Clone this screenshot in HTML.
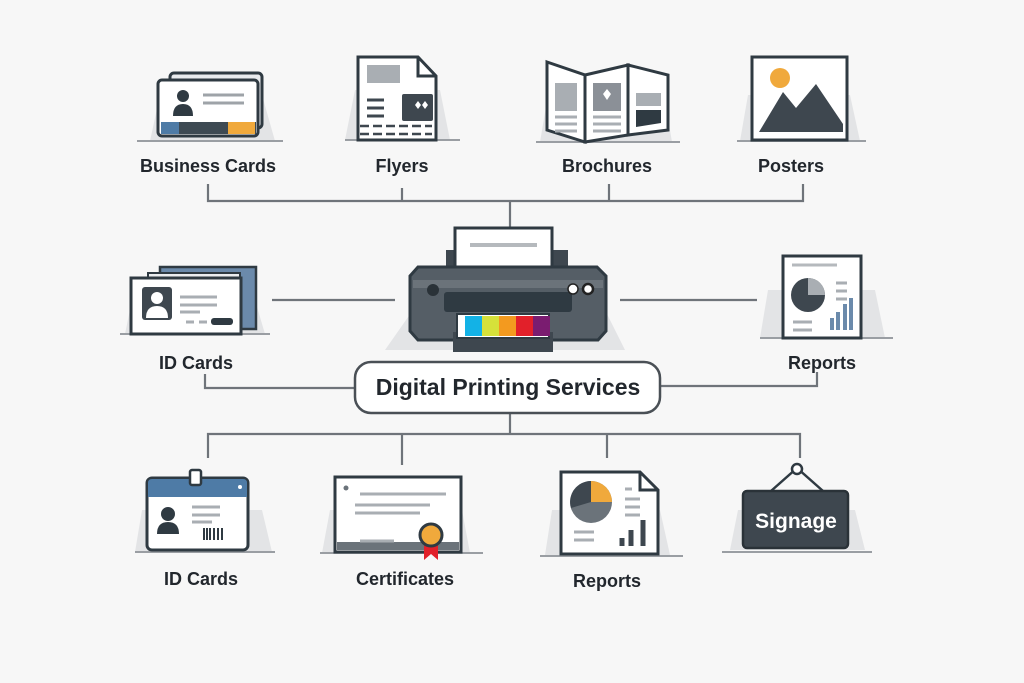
<!DOCTYPE html>
<html><head><meta charset="utf-8"><style>
html,body{margin:0;padding:0;background:#f6f6f6;}
svg{display:block}
text{font-family:"Liberation Sans",sans-serif;font-weight:bold;fill:#22272d;}
</style></head><body>
<svg width="1024" height="683" viewBox="0 0 1024 683" xmlns="http://www.w3.org/2000/svg">
<rect x="0" y="0" width="1024" height="683" fill="#f7f7f7"/>
<g stroke="#6f747a" stroke-width="2.2" fill="none">
<!-- top connectors -->
<path d="M208 184V201H803V184M402 188V201M609 184V201M510 201V228"/>
<path d="M272 300H395M620 300H757"/>
<path d="M205 374V388H355M660 386H817V372"/>
<path d="M510 413V434M208 458V434H800V458M402 434V465M607 434V458"/>
</g>
<!-- base shelves -->
<g fill="#e3e4e6">
<path d="M150 141L160 95H262L275 141Z"/>
<path d="M345 140L355 90H440L450 140Z"/>
<path d="M540 142L548 95H664L672 142Z"/>
<path d="M740 141L748 95H850L860 141Z"/>
<path d="M125 334L132 300H255L265 334Z"/>
<path d="M760 338L768 290H875L885 338Z"/>
<path d="M135 552L142 510H262L272 552Z"/>
<path d="M322 553L330 510H462L470 553Z"/>
<path d="M545 555L552 510H660L670 555Z"/>
<path d="M730 550L738 510H855L865 550Z"/>
<path d="M385 350L420 300H600L625 350Z"/>
</g>
<g stroke="#9a9ea3" stroke-width="2">
<path d="M137 141H283M345 140H460M536 142H680M737 141H866M120 334H270M760 338H893M135 552H275M320 553H483M540 556H683M722 552H872"/>
</g>
<!-- Business card -->
<rect x="170" y="73" width="92" height="55" rx="4" fill="#e9ebee" stroke="#2f3a42" stroke-width="3"/>
<rect x="158" y="80" width="100" height="56" rx="4" fill="#fff" stroke="#2f3a42" stroke-width="3"/>
<rect x="161" y="122" width="95" height="12" fill="#3e4a53"/>
<rect x="161" y="122" width="18" height="12" fill="#4e7ba6"/>
<rect x="228" y="122" width="27" height="12" fill="#f0a93c"/>
<circle cx="183" cy="96" r="6" fill="#2f3a42"/><path d="M173 116Q173 104 183 104Q193 104 193 116Z" fill="#2f3a42"/>
<path d="M203 95H244M203 103H244" stroke="#9ea3a8" stroke-width="3"/>
<!-- Flyer -->
<path d="M358 57H418L436 76V140H358Z" fill="#fff" stroke="#2f3a42" stroke-width="3"/>
<path d="M418 57V76H436" fill="none" stroke="#2f3a42" stroke-width="3"/>
<rect x="367" y="65" width="33" height="18" fill="#a9aeb3"/>
<rect x="404" y="105" width="31" height="27" rx="2" fill="#3e474f" transform="translate(-2,-11)"/>
<path d="M415 105l3-4 3 4-3 4zM422 105l3-4 3 4-3 4z" fill="#fff"/>
<path d="M367 100H384M367 108H384M367 116H384" stroke="#3e474f" stroke-width="3"/>
<path d="M360 126H432M360 134H432" stroke="#3e474f" stroke-width="2.5" stroke-dasharray="9 4"/>
<!-- Brochure -->
<path d="M547 62L585 75V142L547 130Z" fill="#fff" stroke="#2f3a42" stroke-width="3"/>
<path d="M585 75L628 65V135L585 142Z" fill="#fff" stroke="#2f3a42" stroke-width="3"/>
<path d="M628 65L668 75V130L628 135Z" fill="#fff" stroke="#2f3a42" stroke-width="3"/>
<rect x="555" y="83" width="22" height="28" fill="#a9aeb3"/>
<rect x="593" y="83" width="28" height="28" fill="#8b9097"/>
<path d="M607 89l4 5-4 6-4-6z" fill="#fff"/>
<rect x="636" y="93" width="25" height="13" fill="#a9aeb3"/>
<path d="M636 110H661V123L636 127Z" fill="#2f3a42"/>
<path d="M555 117H577M555 124H577M555 131H577M593 117H621M593 124H621M593 131H621" stroke="#a9aeb3" stroke-width="3"/>
<!-- Poster -->
<rect x="752" y="57" width="95" height="83" fill="#fff" stroke="#2f3a42" stroke-width="3"/>
<circle cx="780" cy="78" r="10" fill="#f0a93c"/>
<path d="M759 132L783 92L796 108L816 84L843 124V132Z" fill="#3e474f"/>
<!-- Printer -->
<rect x="446" y="250" width="122" height="22" fill="#3e474f"/>
<rect x="455" y="228" width="97" height="45" fill="#fff" stroke="#2f3a42" stroke-width="3"/>
<path d="M470 245H537" stroke="#b5b9bd" stroke-width="4"/>
<path d="M418 267H597L606 276V331L598 340H418L410 331V276Z" fill="#555e66" stroke="#2f3a42" stroke-width="3"/>
<rect x="413" y="280" width="190" height="8" fill="#6b737a"/>
<rect x="444" y="292" width="128" height="20" rx="3" fill="#2f3a42"/>
<circle cx="433" cy="290" r="6" fill="#2a3238"/>
<circle cx="573" cy="289" r="5" fill="#fff" stroke="#222" stroke-width="1.5"/>
<circle cx="588" cy="289" r="5" fill="#fff" stroke="#222" stroke-width="2.5"/>
<rect x="453" y="332" width="100" height="20" fill="#3e474f"/>
<rect x="457" y="314" width="92" height="24" fill="#fff" stroke="#2f3a42" stroke-width="2"/>
<rect x="465" y="316" width="17" height="20" fill="#13b2e6"/>
<rect x="482" y="316" width="17" height="20" fill="#d6e13a"/>
<rect x="499" y="316" width="17" height="20" fill="#f39a1f"/>
<rect x="516" y="316" width="17" height="20" fill="#e2202a"/>
<rect x="533" y="316" width="17" height="20" fill="#7a1c70"/>
<!-- ID Cards left -->
<rect x="160" y="267" width="96" height="62" fill="#6b8aab" stroke="#2f3a42" stroke-width="2.5"/>
<rect x="148" y="273" width="92" height="55" fill="#eceef0" stroke="#2f3a42" stroke-width="2"/>
<rect x="131" y="278" width="110" height="56" fill="#fff" stroke="#2f3a42" stroke-width="3"/>
<rect x="142" y="287" width="30" height="33" rx="3" fill="#3e474f"/>
<circle cx="157" cy="298" r="6" fill="#fff"/><path d="M146 318Q146 306 157 306Q168 306 168 318Z" fill="#fff"/>
<path d="M180 297H217M180 305H217M180 312H200" stroke="#a9aeb3" stroke-width="3"/>
<path d="M186 322H194M199 322H207" stroke="#a9aeb3" stroke-width="3"/>
<rect x="211" y="318" width="22" height="7" rx="3" fill="#2f3a42"/>
<!-- Reports right -->
<rect x="838" y="272" width="22" height="66" fill="#e9ebee" stroke="#2f3a42" stroke-width="2.5"/>
<rect x="783" y="256" width="78" height="82" fill="#fff" stroke="#2f3a42" stroke-width="3"/>
<path d="M792 265H837" stroke="#b5b9bd" stroke-width="3"/>
<circle cx="808" cy="295" r="17" fill="#3e474f"/>
<path d="M808 295V278A17 17 0 0 1 825 295Z" fill="#a9aeb3"/>
<path d="M836 283H847M836 291H847M836 299H847M793 322H812M793 330H812" stroke="#a9aeb3" stroke-width="3"/>
<path d="M832 330V318M838 330V312M845 330V304M851 330V298" stroke="#6b8aab" stroke-width="4"/>
<!-- Bottom ID card -->
<rect x="147" y="478" width="101" height="72" rx="5" fill="#fff" stroke="#2f3a42" stroke-width="3"/>
<path d="M148 497V483Q148 479 152 479H243Q247 479 247 483V497Z" fill="#4e7ba6"/>
<rect x="190" y="470" width="11" height="15" rx="2" fill="#fff" stroke="#2f3a42" stroke-width="2.5"/>
<circle cx="240" cy="487" r="2" fill="#fff"/>
<circle cx="168" cy="514" r="7" fill="#2f3a42"/><path d="M157 534Q157 522 168 522Q179 522 179 534Z" fill="#2f3a42"/>
<path d="M192 507H220M192 515H220M192 522H212" stroke="#a9aeb3" stroke-width="3"/>
<path d="M204 528V540M207 528V540M210 528V540M214 528V540M218 528V540M222 528V540" stroke="#2f3a42" stroke-width="2"/>
<!-- Certificate -->
<rect x="335" y="477" width="126" height="75" fill="#fff" stroke="#2f3a42" stroke-width="3"/>
<rect x="337" y="542" width="122" height="8" fill="#6b737a"/>
<circle cx="346" cy="488" r="2.5" fill="#6b737a"/>
<path d="M360 494H446M355 505H430M355 513H420M360 541H394" stroke="#a9aeb3" stroke-width="3"/>
<path d="M424 542V560L431 554L438 560V542Z" fill="#e2202a"/>
<circle cx="431" cy="535" r="11" fill="#f0a93c" stroke="#2f3a42" stroke-width="3"/>
<!-- Reports bottom -->
<path d="M561 472H640L658 490V554H561Z" fill="#fff" stroke="#2f3a42" stroke-width="3"/>
<path d="M640 472V490H658" fill="none" stroke="#2f3a42" stroke-width="3"/>
<circle cx="591" cy="502" r="21" fill="#6b737a"/>
<path d="M591 502V481A21 21 0 0 1 612 502Z" fill="#f0a93c"/>
<path d="M591 502V481A21 21 0 0 0 571 508Z" fill="#3e474f"/>
<path d="M625 489H632M625 499H640M625 507H640M625 515H640M574 532H594M574 540H594" stroke="#a9aeb3" stroke-width="3"/>
<path d="M622 546V538M631 546V530M643 546V520" stroke="#3e474f" stroke-width="5"/>
<!-- Signage -->
<path d="M771 491L797 468L823 491" fill="none" stroke="#2f3a42" stroke-width="2.5"/>
<circle cx="797" cy="469" r="5" fill="#fff" stroke="#2f3a42" stroke-width="2.5"/>
<rect x="743" y="491" width="105" height="57" rx="4" fill="#3e474f" stroke="#2a3238" stroke-width="2.5"/>
<text x="796" y="528" text-anchor="middle" font-size="21" style="fill:#fff">Signage</text>
<!-- Center box -->
<rect x="355" y="362" width="305" height="51" rx="16" fill="#fff" stroke="#4a5056" stroke-width="2.5"/>
<text x="508" y="395" text-anchor="middle" font-size="23">Digital Printing Services</text>
<!-- labels -->
<g font-size="18" text-anchor="middle">
<text x="208" y="172">Business Cards</text>
<text x="402" y="172">Flyers</text>
<text x="607" y="172">Brochures</text>
<text x="791" y="172">Posters</text>
<text x="196" y="369">ID Cards</text>
<text x="822" y="369">Reports</text>
<text x="201" y="585">ID Cards</text>
<text x="405" y="585">Certificates</text>
<text x="607" y="587">Reports</text>
</g>
</svg>
</body></html>
